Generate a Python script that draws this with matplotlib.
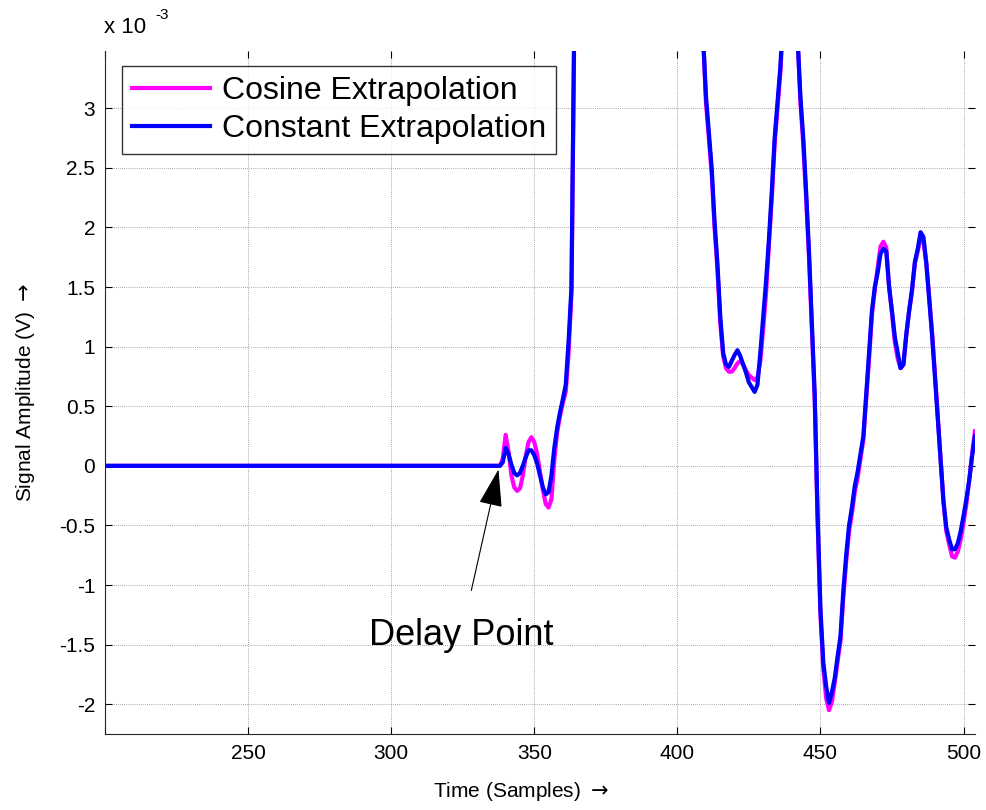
import matplotlib.pyplot as plt
from matplotlib.ticker import FuncFormatter, MultipleLocator

plt.rcParams['font.family'] = ['Liberation Sans', 'DejaVu Sans']

# sample index (vertices of the traces)
samples = [200, 338, 339, 340, 341, 342, 343, 344, 345, 346, 347, 348, 349, 350,
           351, 352, 353, 354, 355, 356, 357, 358, 359, 360, 361, 362, 363, 364,
           365, 366, 386, 404, 408, 409, 410, 412, 413, 414, 415, 416, 417, 418,
           419, 420, 421, 422, 423, 424, 425, 426, 427, 428, 429, 430, 431, 432,
           433, 434, 435, 436, 437, 438, 441, 442, 443, 444, 445, 446, 447, 448,
           449, 450, 451, 452, 453, 454, 455, 456, 457, 458, 459, 460, 461, 462,
           463, 464, 465, 466, 467, 468, 469, 470, 471, 472, 473, 474, 475, 476,
           477, 478, 479, 480, 481, 482, 483, 484, 485, 486, 487, 488, 489, 490,
           491, 492, 493, 494, 495, 496, 497, 498, 499, 500, 501, 502, 503, 504]

# amplitudes in units of 1e-3 V
constant_mV = [0, 0, 0.03, 0.15, 0.10, 0.01, -0.06, -0.08, -0.06, 0.0, 0.07, 0.13, 0.13, 0.09,
               0.02, -0.08, -0.18, -0.24, -0.22, -0.08, 0.15, 0.32, 0.45, 0.56, 0.68, 1.05, 1.50, 3.8,
               6.0, 7.5, 9.0, 6.5, 4.0, 3.6, 3.1, 2.5, 2.05, 1.7, 1.25, 0.95, 0.85, 0.83,
               0.88, 0.93, 0.97, 0.92, 0.85, 0.78, 0.70, 0.66, 0.62, 0.68, 0.95, 1.25, 1.55, 1.90,
               2.3, 2.75, 3.05, 3.35, 3.8, 4.5, 4.5, 3.6, 3.1, 2.75, 2.3, 1.8, 1.2, 0.6,
               -0.4, -1.2, -1.65, -1.85, -1.99, -1.90, -1.78, -1.60, -1.43, -1.05, -0.75, -0.50, -0.35, -0.17,
               -0.05, 0.10, 0.25, 0.60, 0.95, 1.30, 1.50, 1.62, 1.78, 1.82, 1.80, 1.50, 1.30, 1.08,
               0.95, 0.82, 0.85, 1.10, 1.30, 1.48, 1.71, 1.82, 1.96, 1.92, 1.70, 1.40, 1.10, 0.75,
               0.40, 0.05, -0.30, -0.52, -0.62, -0.70, -0.70, -0.65, -0.55, -0.42, -0.28, -0.12, 0.08, 0.25]

cosine_mV = [0, 0, 0.06, 0.26, 0.12, -0.08, -0.18, -0.21, -0.19, -0.08, 0.08, 0.20, 0.24, 0.20,
             0.10, -0.05, -0.20, -0.32, -0.35, -0.28, 0.05, 0.28, 0.42, 0.53, 0.62, 0.95, 1.45, 3.7,
             6.0, 7.5, 9.0, 6.5, 4.0, 3.6, 3.05, 2.45, 2.0, 1.65, 1.2, 0.92, 0.82, 0.79,
             0.79, 0.82, 0.86, 0.88, 0.85, 0.80, 0.76, 0.74, 0.72, 0.74, 0.88, 1.15, 1.45, 1.85,
             2.25, 2.7, 3.0, 3.3, 3.75, 4.5, 4.5, 3.6, 3.05, 2.7, 2.25, 1.75, 1.15, 0.55,
             -0.45, -1.25, -1.70, -1.95, -2.05, -1.98, -1.82, -1.64, -1.47, -1.10, -0.80, -0.55, -0.40, -0.22,
             -0.10, 0.06, 0.22, 0.56, 0.90, 1.27, 1.48, 1.66, 1.84, 1.88, 1.83, 1.50, 1.28, 1.04,
             0.90, 0.82, 0.85, 1.10, 1.30, 1.46, 1.70, 1.80, 1.92, 1.88, 1.70, 1.42, 1.12, 0.78,
             0.42, 0.05, -0.30, -0.55, -0.66, -0.76, -0.77, -0.72, -0.62, -0.48, -0.32, -0.12, 0.10, 0.29]

series_labels = ['Cosine Extrapolation', 'Constant Extrapolation']
delay_sample = 337.5
delay_value = -0.03e-3

cosine = [v * 1e-3 for v in cosine_mV]
constant = [v * 1e-3 for v in constant_mV]

fig = plt.figure(figsize=(9.87, 8.10), dpi=100)
ax = fig.add_axes([0.1064, 0.0938, 0.8814, 0.8432])

ax.plot(samples, cosine, color='#ff00ff', lw=3.0, label=series_labels[0])
ax.plot(samples, constant, color='#0000ff', lw=3.0, label=series_labels[1])

ax.set_xlim(200, 504)
ax.set_ylim(-2.25e-3, 3.48e-3)
ax.xaxis.set_major_locator(MultipleLocator(50))
ax.yaxis.set_major_locator(MultipleLocator(0.5e-3))
ax.yaxis.set_major_formatter(FuncFormatter(lambda v, p: '%g' % round(v * 1e3, 3)))
ax.xaxis.set_major_formatter(FuncFormatter(lambda v, p: '' if v <= 200 else '%d' % v))

# box-style ticks on every side, only left/bottom lines drawn
for s in ['top', 'right']:
    ax.spines[s].set_visible(False)
for s in ['left', 'bottom']:
    ax.spines[s].set_color('#262626')
    ax.spines[s].set_linewidth(0.8)
ax.tick_params(direction='in', length=5, width=0.8, top=True, right=True,
               labelsize=15, pad=7, colors='black')
ax.grid(True, color='#8c8c8c', linestyle=(0, (1, 1.5)), linewidth=0.6)

ax.set_xlabel(r'Time (Samples) $\rightarrow$', fontsize=15, labelpad=12)
ax.set_ylabel(r'Signal Amplitude (V) $\rightarrow$', fontsize=15, labelpad=16)
ax.xaxis.set_label_coords(0.478, -0.068)

# exponent for the y axis
fig.text(0.105, 0.953, 'x 10', fontsize=16, ha='left', va='bottom')
fig.text(0.157, 0.973, '-3', fontsize=11, ha='left', va='bottom')

leg = ax.legend(loc='upper left', bbox_to_anchor=(0.0195, 0.978), fontsize=23,
                frameon=True, fancybox=False, handlelength=2.45, handletextpad=0.35,
                borderpad=0.32, labelspacing=0.25, borderaxespad=0)
leg.get_frame().set_edgecolor('black')
leg.get_frame().set_linewidth(1.0)

ax.annotate('Delay Point', xy=(delay_sample, delay_value),
            xytext=(324.5, -1.42e-3), fontsize=26, ha='center', va='center',
            arrowprops=dict(arrowstyle='-|>,head_length=0.8,head_width=0.25',
                            color='black', lw=0.8, mutation_scale=30,
                            shrinkA=18, shrinkB=0))

fig.savefig('out.png', dpi=100)
